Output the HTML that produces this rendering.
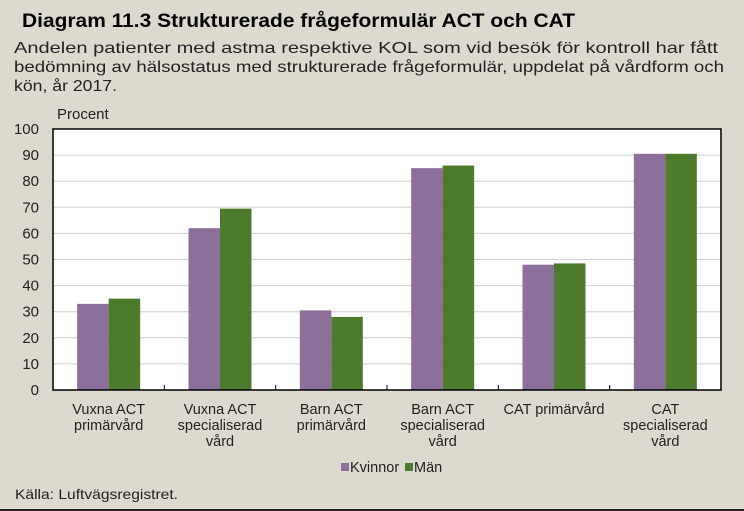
<!DOCTYPE html>
<html><head><meta charset="utf-8"><style>
body{margin:0;width:744px;height:511px;background:#dcd9cf;font-family:"Liberation Sans",sans-serif;overflow:hidden;position:relative}
</style></head><body>
<svg width="744" height="100" style="position:absolute;left:0;top:0">
<text x="22" y="27" font-size="19" font-weight="bold" fill="#000" textLength="553" lengthAdjust="spacingAndGlyphs">Diagram 11.3 Strukturerade frågeformulär ACT och CAT</text>
<g font-size="16" fill="#222">
<text x="14" y="53" textLength="704" lengthAdjust="spacingAndGlyphs">Andelen patienter med astma respektive KOL som vid besök för kontroll har fått</text>
<text x="14" y="72" textLength="710" lengthAdjust="spacingAndGlyphs">bedömning av hälsostatus med strukturerade frågeformulär, uppdelat på vårdform och</text>
<text x="14" y="91" textLength="103" lengthAdjust="spacingAndGlyphs">kön, år 2017.</text>
</g>
</svg>
<svg id="c" width="744" height="511" style="position:absolute;left:0;top:0"></svg>
<svg width="744" height="30" style="position:absolute;left:0;top:481px">
<text x="15" y="18" font-size="14" fill="#222" textLength="163" lengthAdjust="spacingAndGlyphs">Källa: Luftvägsregistret.</text>
</svg>
<div style="position:absolute;left:0;top:509px;width:744px;height:2px;background:#222"></div>
<script>
const categories=[["Vuxna ACT","primärvård"],["Vuxna ACT","specialiserad","vård"],["Barn ACT","primärvård"],["Barn ACT","specialiserad","vård"],["CAT primärvård"],["CAT","specialiserad","vård"]];
const kvinnor=[33,62,30.5,85,48,90.5];
const man=[35,69.5,28,86,48.5,90.5];
const yTicks=[0,10,20,30,40,50,60,70,80,90,100];
const NS="http://www.w3.org/2000/svg",svg=document.getElementById('c');
const L=53,R=721,T=129,B=390;
const y=v=>B-(v/100)*(B-T);
const bw=(R-L)/categories.length;
function el(t,a,p){const e=document.createElementNS(NS,t);for(const k in a)e.setAttribute(k,a[k]);(p||svg).appendChild(e);return e;}
const bg=el('rect',{x:L,y:T,width:R-L,height:B-T,fill:'#fff'});


yTicks.forEach(v=>{
 if(v>0&&v<100){const g=el('line',{x1:L,x2:R,y1:y(v),y2:y(v),stroke:'#d0d0d0','stroke-width':1});
 
 }
 const t=el('text',{x:L-14,y:y(v)+5,'text-anchor':'end','font-size':15,fill:'#222'});t.textContent=v;
 
 
});
const yt=el('text',{x:57,y:119,'font-size':15,fill:'#222'});yt.textContent='Procent';


const bwid=31.5;
categories.forEach((c,i)=>{
 const cx=L+bw*(i+0.5);
 const b1=el('rect',{x:cx-bwid,y:y(kvinnor[i]),width:bwid,height:B-y(kvinnor[i]),fill:'#8c6f9a'});
 
 
 const b2=el('rect',{x:cx,y:y(man[i]),width:bwid,height:B-y(man[i]),fill:'#4d7a2c'});
 
 
 if(i>0){const tk=el('line',{x1:L+bw*i,x2:L+bw*i,y1:B-5,y2:B,stroke:'#000'});
 
 }
 c.forEach((ln,j)=>{const t=el('text',{x:cx,y:414+j*16,'text-anchor':'middle','font-size':14.5,fill:'#222'});t.textContent=ln;
 
 });
});
const fr=el('rect',{x:L,y:T,width:R-L,height:B-T,fill:'none',stroke:'#000','stroke-width':1.5});


[['#8c6f9a','Kvinnor',341],['#4d7a2c','Män',405]].forEach(([col,lab,x])=>{
 const s=el('rect',{x:x,y:463,width:8,height:8,fill:col});
 
 
 const t=el('text',{x:x+9,y:472,'font-size':14.5,fill:'#222'});t.textContent=lab;
 
 
});
</script>
</body></html>
